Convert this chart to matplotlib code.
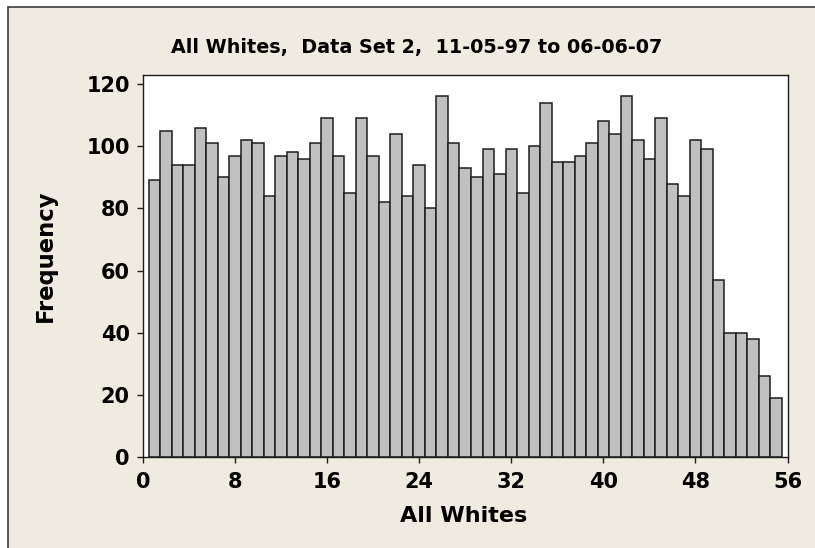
import matplotlib
matplotlib.use("Agg")
import matplotlib.pyplot as plt
from matplotlib.patches import Rectangle

# bin midpoints (All Whites value) and counts
values = list(range(1, 56))
counts = [89, 105, 94, 94, 106, 101, 90, 97, 102, 101,
          84, 97, 98, 96, 101, 109, 97, 85, 109, 97,
          82, 104, 84, 94, 80, 116, 101, 93, 90, 99,
          91, 99, 85, 100, 114, 95, 95, 97, 101, 108,
          104, 116, 102, 96, 109, 88, 84, 102, 99, 57,
          40, 40, 38, 26, 19]
xticks = [0, 8, 16, 24, 32, 40, 48, 56]
yticks = [0, 20, 40, 60, 80, 100, 120]

title = "All Whites,  Data Set 2,  11-05-97 to 06-06-07"
xlabel = "All Whites"
ylabel = "Frequency"

W, H = 815, 548
bg = "#efebe1"

fig = plt.figure(figsize=(W / 100, H / 100), dpi=100, facecolor="white")

# beige panel with dark border on the top/left edge
fig.patches.append(Rectangle((8 / W, 0 - 0.05), 1.2, (H - 7) / H + 0.05,
                             transform=fig.transFigure, facecolor=bg,
                             edgecolor="#3a3a3a", linewidth=1.2, zorder=-5))

ax = fig.add_axes([143 / W, 1 - 457.3 / H, (787.5 - 143) / W, (457.3 - 75) / H])
ax.set_zorder(3)
ax.set_facecolor("white")
ax.bar(values, counts, width=1.0, color="#c0c0c0", edgecolor="#1e1e1e",
       linewidth=1.1, align="center")

ax.set_xlim(0, 56)
ax.set_ylim(0, 122.9)
ax.set_xticks(xticks)
ax.set_yticks(yticks)
for s in ax.spines.values():
    s.set_linewidth(1.0)
    s.set_color("#1e1e1e")
ax.tick_params(direction="out", length=4.5, width=1.0, color="#1e1e1e")
ax.tick_params(axis="x", pad=6)
ax.tick_params(axis="y", pad=5)
for lab in ax.get_xticklabels() + ax.get_yticklabels():
    lab.set_fontsize(15)
    lab.set_fontweight("bold")

fig.text(417 / W, 1 - 47 / H, title, ha="center", va="center",
         fontsize=13.8, fontweight="bold")
fig.text(464 / W, 1 - 516 / H, xlabel, ha="center", va="center",
         fontsize=16, fontweight="bold")
fig.text(45 / W, 1 - 256 / H, ylabel, ha="center", va="center",
         rotation=90, fontsize=16.3, fontweight="bold")

fig.savefig("out.png", dpi=100, facecolor=fig.get_facecolor())
